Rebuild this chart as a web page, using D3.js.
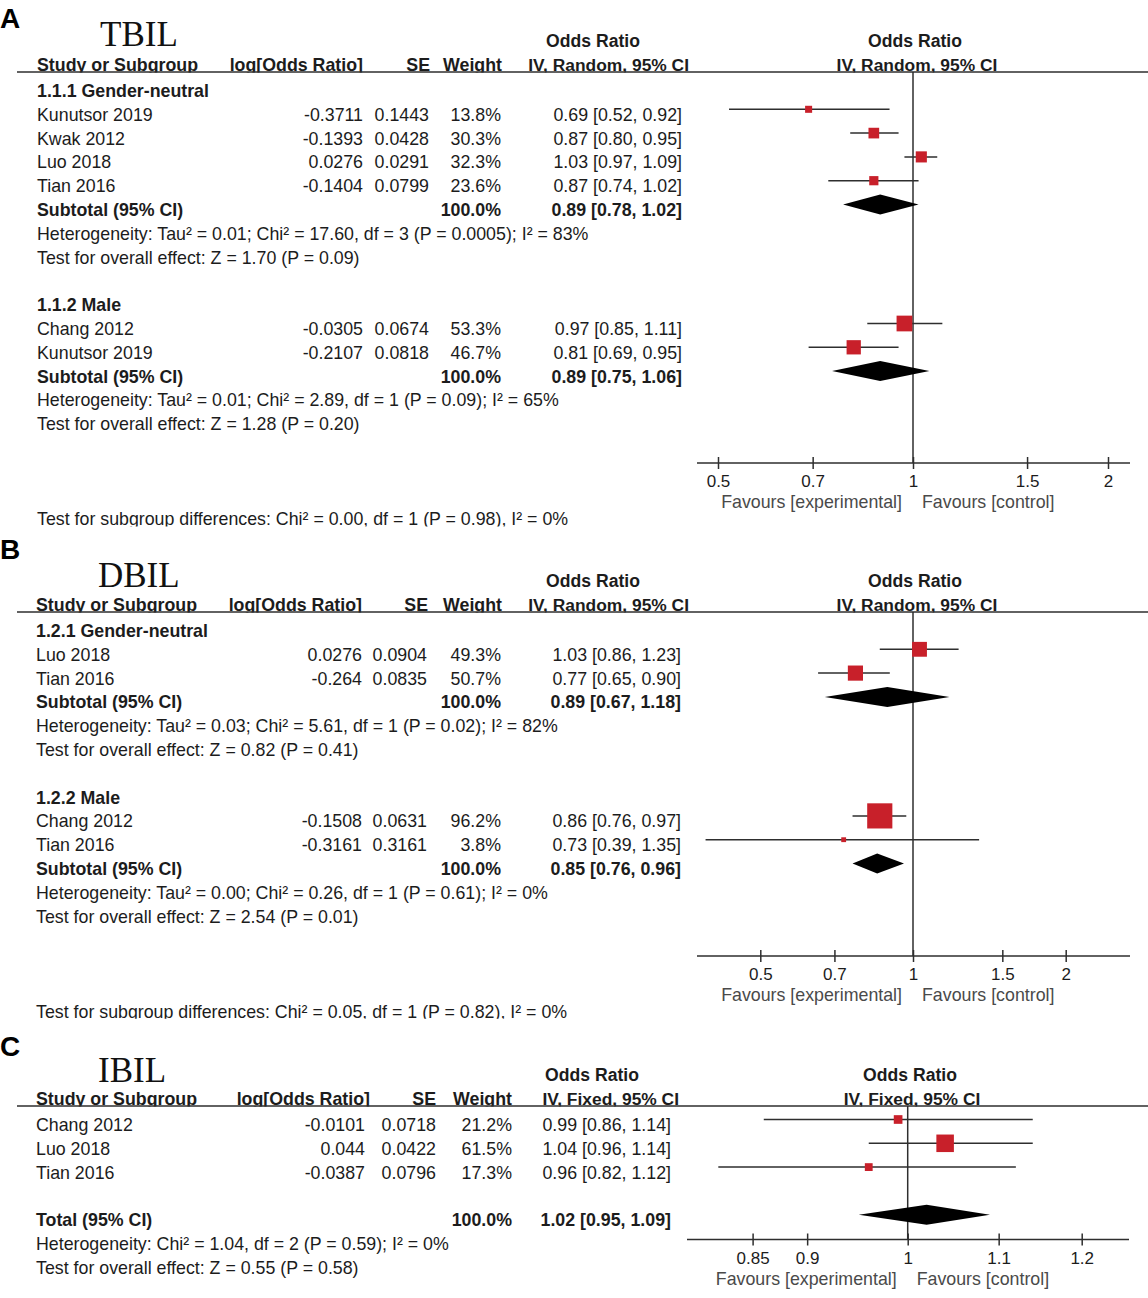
<!DOCTYPE html>
<html lang="en">
<head>
<meta charset="UTF-8">
<title>Forest plots: TBIL, DBIL, IBIL</title>
<script src="https://d3js.org/d3.v7.min.js"></script>
<style>
  body, html { margin: 0; padding: 0; background: #fff; }
  svg { display: block; font-family: "Liberation Sans", Arial, Helvetica, sans-serif; }
</style>
</head>
<body>
<div id="chart"></div>
<script>
// ---- A: TBIL ----
const tbilGroups = ["1.1.1 Gender-neutral", "1.1.2 Male"];
const tbilStudies = [["Kunutsor 2019", "Kwak 2012", "Luo 2018", "Tian 2016"], ["Chang 2012", "Kunutsor 2019"]];
const tbilLogOR = [[-0.3711, -0.1393, 0.0276, -0.1404], [-0.0305, -0.2107]];
const tbilSE = [[0.1443, 0.0428, 0.0291, 0.0799], [0.0674, 0.0818]];
const tbilWeight = [[13.8, 30.3, 32.3, 23.6], [53.3, 46.7]];
const tbilOR = [[0.69, 0.87, 1.03, 0.87], [0.97, 0.81]];
const tbilLo = [[0.52, 0.80, 0.97, 0.74], [0.85, 0.69]];
const tbilHi = [[0.92, 0.95, 1.09, 1.02], [1.11, 0.95]];
const tbilSubOR = [0.89, 0.89];
const tbilSubLo = [0.78, 0.75];
const tbilSubHi = [1.02, 1.06];
const tbilHet = ["Heterogeneity: Tau² = 0.01; Chi² = 17.60, df = 3 (P = 0.0005); I² = 83%",
                 "Heterogeneity: Tau² = 0.01; Chi² = 2.89, df = 1 (P = 0.09); I² = 65%"];
const tbilTest = ["Test for overall effect: Z = 1.70 (P = 0.09)", "Test for overall effect: Z = 1.28 (P = 0.20)"];
const tbilDiff = "Test for subgroup differences: Chi² = 0.00, df = 1 (P = 0.98), I² = 0%";
const tbilTicks = [0.5, 0.7, 1, 1.5, 2];

// ---- B: DBIL ----
const dbilGroups = ["1.2.1 Gender-neutral", "1.2.2 Male"];
const dbilStudies = [["Luo 2018", "Tian 2016"], ["Chang 2012", "Tian 2016"]];
const dbilLogOR = [[0.0276, -0.264], [-0.1508, -0.3161]];
const dbilSE = [[0.0904, 0.0835], [0.0631, 0.3161]];
const dbilWeight = [[49.3, 50.7], [96.2, 3.8]];
const dbilOR = [[1.03, 0.77], [0.86, 0.73]];
const dbilLo = [[0.86, 0.65], [0.76, 0.39]];
const dbilHi = [[1.23, 0.90], [0.97, 1.35]];
const dbilSubOR = [0.89, 0.85];
const dbilSubLo = [0.67, 0.76];
const dbilSubHi = [1.18, 0.96];
const dbilHet = ["Heterogeneity: Tau² = 0.03; Chi² = 5.61, df = 1 (P = 0.02); I² = 82%",
                 "Heterogeneity: Tau² = 0.00; Chi² = 0.26, df = 1 (P = 0.61); I² = 0%"];
const dbilTest = ["Test for overall effect: Z = 0.82 (P = 0.41)", "Test for overall effect: Z = 2.54 (P = 0.01)"];
const dbilDiff = "Test for subgroup differences: Chi² = 0.05, df = 1 (P = 0.82), I² = 0%";
const dbilTicks = [0.5, 0.7, 1, 1.5, 2];

// ---- C: IBIL ----
const ibilStudies = [["Chang 2012", "Luo 2018", "Tian 2016"]];
const ibilLogOR = [[-0.0101, 0.044, -0.0387]];
const ibilSE = [[0.0718, 0.0422, 0.0796]];
const ibilWeight = [[21.2, 61.5, 17.3]];
const ibilOR = [[0.99, 1.04, 0.96]];
const ibilLo = [[0.86, 0.96, 0.82]];
const ibilHi = [[1.14, 1.14, 1.12]];
const ibilSubOR = [1.02];
const ibilSubLo = [0.95];
const ibilSubHi = [1.09];
const ibilHet = ["Heterogeneity: Chi² = 1.04, df = 2 (P = 0.59); I² = 0%"];
const ibilTest = ["Test for overall effect: Z = 0.55 (P = 0.58)"];
const ibilTicks = [0.85, 0.9, 1, 1.1, 1.2];

const W = 1148, H = 1298;
const TXT = "#1c1c1c", LINE = "#2e2e2e", RED = "#c8202a";
const FS = 17.8;

const svg = d3.select("#chart").append("svg")
    .attr("width", W).attr("height", H)
    .attr("viewBox", `0 0 ${W} ${H}`);
svg.append("rect").attr("width", W).attr("height", H).attr("fill", "#fff");

const panels = [
  {
    letter: "A", title: "TBIL", method: "IV, Random, 95% CI",
    groups: tbilGroups, studies: tbilStudies, logOR: tbilLogOR, se: tbilSE, weight: tbilWeight,
    or: tbilOR, lo: tbilLo, hi: tbilHi, subOR: tbilSubOR, subLo: tbilSubLo, subHi: tbilSubHi,
    het: tbilHet, test: tbilTest, diff: tbilDiff, ticks: tbilTicks,
    L: { lineY: 72, letterY: 28, titleX: 100, titleY: 46, nameX: 37, logX: 363, seX: 429, wX: 501, ciX: 682,
         hLogX: 363, hSeX: 430, hWX: 502, hOrX: 593, hIvX: 689, rOrX: 915, rIvX: 917,
         range: [718, 1108], axisX: [697, 1130], axisOff: 391 }
  },
  {
    letter: "B", title: "DBIL", method: "IV, Random, 95% CI",
    groups: dbilGroups, studies: dbilStudies, logOR: dbilLogOR, se: dbilSE, weight: dbilWeight,
    or: dbilOR, lo: dbilLo, hi: dbilHi, subOR: dbilSubOR, subLo: dbilSubLo, subHi: dbilSubHi,
    het: dbilHet, test: dbilTest, diff: dbilDiff, ticks: dbilTicks,
    L: { lineY: 612, letterY: 559, titleX: 98, titleY: 587, nameX: 36, logX: 362, seX: 427, wX: 501, ciX: 681,
         hLogX: 362, hSeX: 428, hWX: 502, hOrX: 593, hIvX: 689, rOrX: 915, rIvX: 917,
         range: [760.3, 1065.7], axisX: [697, 1130], axisOff: 344 }
  },
  {
    letter: "C", title: "IBIL", method: "IV, Fixed, 95% CI", totalLabel: "Total (95% CI)",
    groups: [null], studies: ibilStudies, logOR: ibilLogOR, se: ibilSE, weight: ibilWeight,
    or: ibilOR, lo: ibilLo, hi: ibilHi, subOR: ibilSubOR, subLo: ibilSubLo, subHi: ibilSubHi,
    het: ibilHet, test: ibilTest, diff: null, ticks: ibilTicks,
    L: { lineY: 1106, letterY: 1056, titleX: 98, titleY: 1082, nameX: 36, logX: 365, seX: 436, wX: 512, ciX: 671,
         hLogX: 370, hSeX: 436, hWX: 512, hOrX: 592, hIvX: 679, rOrX: 910, rIvX: 912,
         range: [752.6, 1081.7], axisX: [687, 1129], axisOff: 133.5 }
  }
];

const ci = (o, l, h) => `${o.toFixed(2)} [${l.toFixed(2)}, ${h.toFixed(2)}]`;

function label(g, x, y, str, opt = {}) {
  return g.append("text")
    .attr("x", x).attr("y", y)
    .attr("text-anchor", opt.anchor || "start")
    .attr("font-size", opt.size || FS)
    .attr("font-weight", opt.bold ? "bold" : "normal")
    .attr("fill", opt.fill || TXT)
    .text(str);
}

panels.forEach((p, pi) => {
  const L = p.L;
  const g = svg.append("g");

  // rows
  const rows = [];
  p.groups.forEach((grp, gi) => {
    if (gi > 0) rows.push({ type: "blank" });
    if (grp) rows.push({ type: "group", label: grp });
    p.studies[gi].forEach((s, i) => rows.push({
      type: "study", name: s, lor: p.logOR[gi][i], se: p.se[gi][i], w: p.weight[gi][i],
      or: p.or[gi][i], lo: p.lo[gi][i], hi: p.hi[gi][i]
    }));
    if (p.totalLabel) rows.push({ type: "blank" });
    rows.push({ type: "sub", label: p.totalLabel || "Subtotal (95% CI)",
                or: p.subOR[gi], lo: p.subLo[gi], hi: p.subHi[gi] });
    rows.push({ type: "note", label: p.het[gi] });
    rows.push({ type: "note", label: p.test[gi] });
  });

  const y = d3.scaleLinear().domain([0, 1]).range([L.lineY + 13.5, L.lineY + 37.3]);
  const x = d3.scaleLog().domain(d3.extent(p.ticks)).range(L.range);
  const box = d3.scaleLinear().domain([0, 100]).range([4, 26]);
  const axisY = L.lineY + L.axisOff;
  const base = 11.5;

  // letter + title
  label(g, 0, L.letterY, p.letter, { size: 28, bold: true, fill: "#000" });
  g.append("text").attr("x", L.titleX).attr("y", L.titleY)
    .attr("font-family", "'Liberation Serif', 'Times New Roman', serif")
    .attr("font-size", 35).attr("fill", "#111").text(p.title);

  // header
  label(g, L.hOrX, L.lineY - 25, "Odds Ratio", { anchor: "middle", bold: true, size: 17.6 });
  label(g, L.rOrX, L.lineY - 25, "Odds Ratio", { anchor: "middle", bold: true, size: 17.6 });

  const clipId = "hclip" + pi;
  svg.append("clipPath").attr("id", clipId).append("rect")
    .attr("x", 0).attr("y", L.lineY - 40).attr("width", W).attr("height", 40.5);
  const hg = g.append("g").attr("clip-path", `url(#${clipId})`);
  const hy = L.lineY - 1;
  label(hg, L.nameX, hy, "Study or Subgroup", { bold: true });
  label(hg, L.hLogX, hy, "log[Odds Ratio]", { anchor: "end", bold: true });
  label(hg, L.hSeX, hy, "SE", { anchor: "end", bold: true });
  label(hg, L.hWX, hy, "Weight", { anchor: "end", bold: true });
  label(hg, L.hIvX, hy, p.method, { anchor: "end", bold: true, size: 17.4 });
  label(hg, L.rIvX, hy, p.method, { anchor: "middle", bold: true, size: 17.4 });

  g.append("line").attr("x1", 17).attr("x2", W).attr("y1", L.lineY).attr("y2", L.lineY)
    .attr("stroke", LINE).attr("stroke-width", 1.6);

  // table text
  rows.forEach((r, i) => {
    const ty = y(i) + base;
    if (r.type === "group") label(g, L.nameX, ty, r.label, { bold: true });
    if (r.type === "note") label(g, L.nameX, ty, r.label);
    if (r.type === "study") {
      label(g, L.nameX, ty, r.name);
      label(g, L.logX, ty, String(r.lor), { anchor: "end" });
      label(g, L.seX, ty, String(r.se), { anchor: "end" });
      label(g, L.wX, ty, r.w.toFixed(1) + "%", { anchor: "end" });
      label(g, L.ciX, ty, ci(r.or, r.lo, r.hi), { anchor: "end" });
    }
    if (r.type === "sub") {
      label(g, L.nameX, ty, r.label, { bold: true });
      label(g, L.wX, ty, "100.0%", { anchor: "end", bold: true });
      label(g, L.ciX, ty, ci(r.or, r.lo, r.hi), { anchor: "end", bold: true });
    }
  });

  if (p.diff) {
    const di = rows.length - 1 + 4;
    const ty = y(di) + base;
    const dc = "dclip" + pi;
    svg.append("clipPath").attr("id", dc).append("rect")
      .attr("x", 0).attr("y", ty - 30).attr("width", W).attr("height", 31);
    label(g.append("g").attr("clip-path", `url(#${dc})`), L.nameX, ty, p.diff);
  }

  // null line
  g.append("line").attr("x1", x(1)).attr("x2", x(1))
    .attr("y1", L.lineY).attr("y2", axisY)
    .attr("stroke", LINE).attr("stroke-width", 1.5);

  // CI lines and squares
  const studies = rows.map((r, i) => ({ ...r, i })).filter(r => r.type === "study");
  g.selectAll(".ci").data(studies).join("line")
    .attr("x1", d => x(d.lo)).attr("x2", d => x(d.hi))
    .attr("y1", d => y(d.i)).attr("y2", d => y(d.i))
    .attr("stroke", LINE).attr("stroke-width", 1.5);
  g.selectAll(".sq").data(studies).join("rect")
    .attr("x", d => x(d.or) - box(d.w) / 2).attr("y", d => y(d.i) - box(d.w) / 2)
    .attr("width", d => box(d.w)).attr("height", d => box(d.w))
    .attr("fill", RED);

  const subs = rows.map((r, i) => ({ ...r, i })).filter(r => r.type === "sub");
  g.selectAll(".dm").data(subs).join("path")
    .attr("d", d => {
      const cy = y(d.i);
      return `M${x(d.lo)},${cy}L${x(d.or)},${cy - 10}L${x(d.hi)},${cy}L${x(d.or)},${cy + 10}Z`;
    })
    .attr("fill", "#000");

  // axis
  g.append("line").attr("x1", L.axisX[0]).attr("x2", L.axisX[1])
    .attr("y1", axisY).attr("y2", axisY).attr("stroke", LINE).attr("stroke-width", 1.6);
  const ax = g.append("g").attr("transform", `translate(0,${axisY})`)
    .call(d3.axisBottom(x).tickValues(p.ticks).tickFormat(d => String(d)).tickSizeOuter(0));
  ax.select(".domain").remove();
  ax.selectAll(".tick line").attr("y1", -6).attr("y2", 6).attr("stroke", LINE).attr("stroke-width", 1.5);
  ax.selectAll(".tick text").attr("y", 24).attr("dy", 0)
    .attr("font-size", 17).attr("fill", TXT)
    .attr("font-family", "'Liberation Sans', Arial, sans-serif");

  label(g, x(1) - 11, axisY + 45, "Favours [experimental]", { anchor: "end", size: 17.8, fill: "#4a4a4a" });
  label(g, x(1) + 9, axisY + 45, "Favours [control]", { size: 17.8, fill: "#4a4a4a" });
});
</script>
</body>
</html>
